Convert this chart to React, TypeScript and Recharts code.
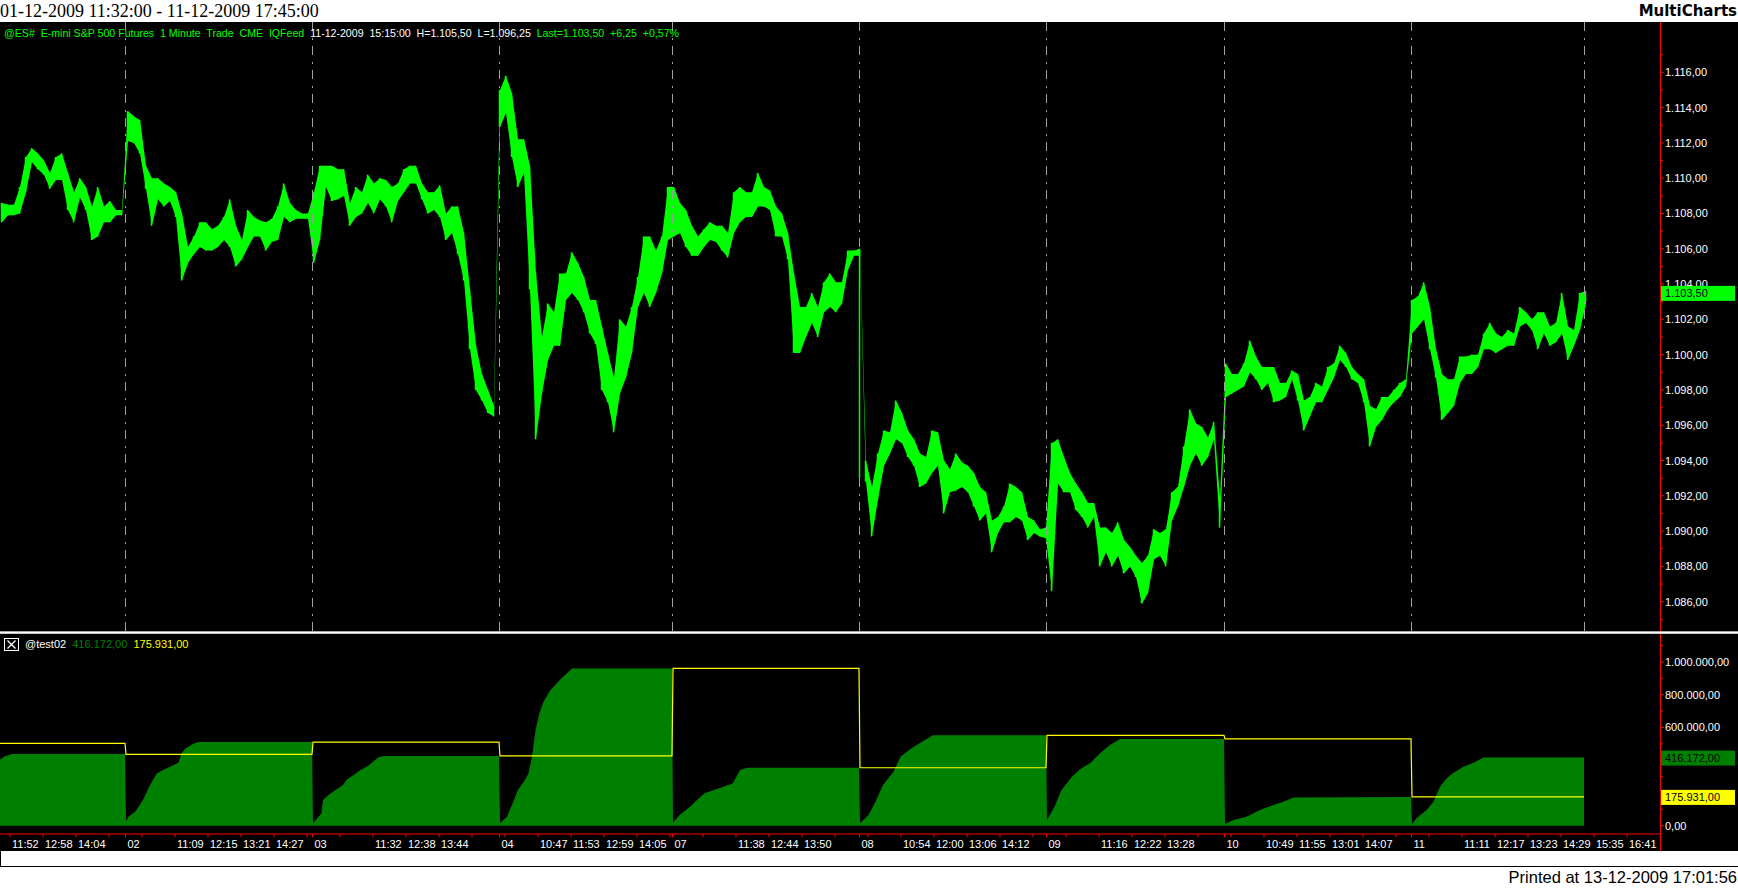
import React from 'react'
import { ComposedChart, Bar, Area, Line, XAxis, YAxis, ReferenceLine } from 'recharts'

const SANS = '"Liberation Sans", Arial, sans-serif'

// one [low, high] pair per 12 one-minute bars, per session
const day01Bars = [
	[1107.5, 1108.6], [1107.9, 1108.5], [1107.9, 1108.5], [1108.0, 1109.5], [1109.2, 1111.2], [1110.9, 1111.7],
	[1110.5, 1111.4], [1110.2, 1111.0], [1109.4, 1110.3], [1109.9, 1111.2], [1109.9, 1111.4], [1108.2, 1110.3],
	[1107.5, 1109.2], [1108.9, 1110.0], [1108.2, 1109.5], [1106.5, 1108.4], [1106.7, 1109.5], [1107.5, 1108.4],
	[1107.5, 1108.7], [1107.9, 1108.2], [1107.9, 1108.2],
]
const day02Bars = [
	[1112.1, 1113.8], [1112.0, 1113.5], [1111.4, 1113.3], [1109.4, 1110.7], [1107.3, 1110.0], [1108.8, 1110.0],
	[1108.4, 1109.7], [1108.7, 1109.5], [1107.8, 1109.2], [1104.2, 1108.0], [1105.2, 1106.1], [1105.7, 1106.7],
	[1106.1, 1107.5], [1105.9, 1107.5], [1105.9, 1107.1], [1106.1, 1107.3], [1106.5, 1107.8], [1106.1, 1108.8],
	[1105.0, 1107.3], [1105.4, 1106.5], [1106.1, 1108.2], [1106.7, 1107.8], [1106.7, 1107.6], [1105.9, 1107.5],
	[1106.4, 1107.7], [1106.5, 1108.4], [1107.8, 1109.7], [1107.5, 1108.6], [1107.7, 1108.2], [1107.7, 1108.0],
	[1107.7, 1108.0],
]
const day03Bars = [
	[1105.2, 1109.2], [1106.5, 1110.7], [1109.5, 1110.7], [1108.7, 1110.7], [1108.8, 1110.5], [1109.0, 1110.5],
	[1107.3, 1108.6], [1107.8, 1109.5], [1108.0, 1109.2], [1108.6, 1110.2], [1108.0, 1109.7], [1108.8, 1110.0],
	[1108.4, 1109.9], [1107.5, 1109.5], [1108.7, 1109.7], [1109.2, 1110.5], [1109.7, 1110.7], [1109.7, 1110.7],
	[1108.8, 1109.7], [1108.0, 1109.2], [1108.2, 1109.2], [1107.8, 1109.6], [1106.5, 1108.0], [1106.9, 1108.4],
	[1105.7, 1108.4], [1104.2, 1106.9], [1100.3, 1103.7], [1098.0, 1100.5], [1097.4, 1098.9], [1096.7, 1098.0],
	[1096.5, 1097.1],
]
const day04Bars = [
	[1112.9, 1115.0], [1113.7, 1115.8], [1111.2, 1114.8], [1109.5, 1112.2], [1110.3, 1112.2], [1103.7, 1110.7],
	[1095.2, 1104.6], [1097.8, 1101.0], [1099.7, 1102.9], [1100.5, 1102.4], [1100.5, 1104.6], [1103.1, 1104.6],
	[1103.5, 1105.8], [1103.1, 1105.2], [1102.4, 1104.4], [1101.2, 1103.1], [1100.6, 1103.1], [1098.0, 1101.6],
	[1097.3, 1100.1], [1095.6, 1098.7], [1097.8, 1102.0], [1098.7, 1101.6], [1100.1, 1102.7], [1102.7, 1104.4],
	[1103.5, 1106.7], [1102.7, 1106.7], [1103.5, 1105.9], [1104.6, 1106.7], [1106.5, 1109.5],
]
const day07Bars = [
	[1106.7, 1109.5], [1106.9, 1108.6], [1106.1, 1108.2], [1105.6, 1107.3], [1105.6, 1106.7], [1106.1, 1107.1],
	[1106.5, 1107.5], [1106.4, 1107.3], [1105.9, 1107.3], [1105.5, 1106.9], [1106.9, 1109.2], [1107.5, 1109.5],
	[1107.8, 1109.2], [1107.8, 1109.2], [1108.4, 1110.3], [1108.4, 1109.5], [1108.2, 1109.3], [1106.7, 1108.4],
	[1106.7, 1108.0], [1105.4, 1106.9], [1100.1, 1104.6], [1100.1, 1102.7], [1101.0, 1102.7], [1101.8, 1103.5],
	[1101.0, 1102.7], [1102.4, 1104.1], [1102.7, 1104.6], [1102.4, 1104.1], [1102.9, 1104.1], [1104.8, 1105.9],
	[1105.6, 1105.9], [1105.6, 1106.0],
]
const day08Bars = [
	[1092.8, 1094.0], [1089.7, 1092.5], [1091.8, 1094.4], [1093.7, 1095.7], [1094.4, 1095.6], [1095.2, 1097.4],
	[1095.0, 1096.7], [1094.2, 1095.7], [1093.7, 1095.2], [1092.5, 1094.4], [1092.7, 1094.2], [1093.3, 1095.7],
	[1093.7, 1095.6], [1091.0, 1094.0], [1092.2, 1093.5], [1092.3, 1094.4], [1092.5, 1093.9], [1092.2, 1093.7],
	[1091.4, 1093.3], [1090.6, 1092.5], [1091.0, 1092.2], [1088.8, 1090.6], [1089.9, 1090.8], [1090.5, 1091.4],
	[1090.5, 1092.7], [1090.8, 1092.5], [1090.6, 1092.2], [1089.5, 1090.8], [1089.9, 1090.6], [1089.7, 1090.1],
	[1089.6, 1090.2],
]
const day09Bars = [
	[1086.6, 1095.0], [1092.7, 1095.2], [1092.2, 1094.2], [1092.2, 1093.3], [1091.2, 1092.7], [1090.8, 1092.2],
	[1090.2, 1091.6], [1090.8, 1091.6], [1088.0, 1090.2], [1088.8, 1090.2], [1088.0, 1089.9], [1088.6, 1090.5],
	[1087.6, 1089.5], [1088.0, 1089.1], [1087.4, 1088.6], [1085.9, 1088.2], [1086.5, 1088.6], [1088.4, 1090.1],
	[1088.6, 1089.9], [1088.0, 1090.1], [1090.6, 1092.2], [1091.4, 1092.5], [1092.5, 1094.8], [1093.7, 1096.9],
	[1094.4, 1096.1], [1093.7, 1095.9], [1094.2, 1095.3], [1095.2, 1096.2], [1090.2, 1091.9],
]
const day10Bars = [
	[1097.6, 1099.5], [1097.8, 1098.9], [1098.0, 1098.9], [1098.2, 1099.5], [1099.0, 1100.8], [1098.6, 1099.9],
	[1098.0, 1099.3], [1098.4, 1099.3], [1097.3, 1099.3], [1097.4, 1098.4], [1097.6, 1098.4], [1098.6, 1099.1],
	[1097.4, 1098.9], [1095.7, 1097.4], [1096.5, 1097.6], [1097.3, 1098.4], [1097.3, 1098.2], [1098.0, 1099.3],
	[1098.7, 1099.5], [1099.7, 1100.5], [1099.3, 1100.1], [1098.6, 1099.3], [1098.4, 1098.9], [1097.3, 1098.6],
	[1094.8, 1097.1], [1095.9, 1096.9], [1096.3, 1097.6], [1096.9, 1097.6], [1097.3, 1098.0], [1097.6, 1098.4],
	[1098.2, 1098.6],
]
const day11Bars = [
	[1101.2, 1103.1], [1101.6, 1103.3], [1102.0, 1104.1], [1100.3, 1102.7], [1098.7, 1100.3], [1096.3, 1098.9],
	[1096.7, 1098.6], [1097.1, 1098.6], [1098.4, 1099.9], [1098.9, 1099.9], [1098.9, 1100.0], [1099.3, 1100.0],
	[1100.3, 1101.2], [1100.3, 1101.8], [1100.1, 1101.2], [1100.3, 1101.0], [1100.5, 1101.4], [1100.5, 1101.2],
	[1101.6, 1102.7], [1101.8, 1102.4], [1101.4, 1102.0], [1100.3, 1102.4], [1101.2, 1102.4], [1100.5, 1101.6],
	[1100.7, 1101.8], [1101.2, 1103.5], [1099.7, 1101.6], [1100.5, 1101.4], [1101.4, 1103.5], [1102.9, 1103.6],
]
const sessionBars = [day01Bars, day02Bars, day03Bars, day04Bars, day07Bars, day08Bars, day09Bars, day10Bars, day11Bars]

// opening bar of the 08 session, spanning the overnight gap: [minute, low, high]
const gapBars = [[1719, 1093.0, 1105.9]]

// session breaks, in minutes from the first bar
const sessionStarts = [251, 625, 999, 1345, 1719, 2093, 2449, 2823]
const sessionLabels = ['02', '03', '04', '07', '08', '09', '10', '11']
const lastBarMinute = 3169

// time axis: a tick every 66 bars from minute 20
const timeLabels = [
	'11:52', '12:58', '14:04', '', '', '11:09', '12:15', '13:21', '14:27', '', '', '11:32', '12:38', '13:44', '', '',
	'10:47', '11:53', '12:59', '14:05', '', '', '11:38', '12:44', '13:50', '', '', '10:54', '12:00', '13:06', '14:12',
	'', '', '11:16', '12:22', '13:28', '', '', '10:49', '11:55', '13:01', '14:07', '', '', '11:11', '12:17', '13:23',
	'14:29', '15:35', '16:41',
]

const priceMajor = [1086, 1088, 1090, 1092, 1094, 1096, 1098, 1100, 1102, 1104, 1106, 1108, 1110, 1112, 1114, 1116]
const priceMinor = [1085, 1087, 1089, 1091, 1093, 1095, 1097, 1099, 1101, 1103, 1105, 1107, 1109, 1111, 1113, 1115, 1117]
const lastPrice = 1103.5

// @test02: running session volume (green) and previous session total (yellow)
const vol01 = [[0, 405000], [10, 425000], [24, 438000], [250, 438000]]
const vol02 = [[252, 29000], [257, 55000], [271, 86000], [286, 157000], [300, 249000], [314, 320000], [329, 345000],
	[343, 365000], [357, 385000], [363, 442000], [371, 473000], [386, 499000], [396, 511000], [624, 511000]]
const vol03 = [[626, 15000], [643, 76000], [646, 157000], [657, 188000], [671, 218000], [686, 249000], [693, 279000],
	[707, 310000], [721, 340000], [736, 365000], [746, 391000], [757, 418000], [768, 426000], [998, 426000]]
const vol04 = [[1000, 16000], [1014, 55000], [1028, 157000], [1036, 218000], [1050, 279000], [1057, 320000],
	[1064, 421000], [1071, 585000], [1079, 688000], [1087, 757000], [1101, 829000], [1123, 900000], [1144, 961000],
	[1344, 961000]]
const vol07 = [[1346, 18000], [1359, 65000], [1380, 116000], [1394, 157000], [1409, 198000], [1437, 228000],
	[1466, 259000], [1480, 340000], [1494, 354000], [1718, 354000]]
const vol08 = [[1720, 15000], [1737, 65000], [1751, 147000], [1766, 249000], [1787, 330000], [1801, 421000],
	[1823, 473000], [1844, 513000], [1866, 552000], [2092, 552000]]
const vol09 = [[2094, 35000], [2109, 116000], [2123, 218000], [2144, 299000], [2160, 345000], [2180, 381000],
	[2200, 442000], [2220, 493000], [2240, 530000], [2448, 530000]]
const vol10 = [[2450, 10000], [2467, 35000], [2493, 55000], [2520, 96000], [2547, 126000], [2567, 147000],
	[2587, 173000], [2822, 176000]]
const vol11 = [[2824, 10000], [2833, 45000], [2853, 96000], [2867, 147000], [2880, 238000], [2893, 289000],
	[2907, 324000], [2927, 360000], [2947, 385000], [2967, 416000], [3168, 416172]]
const sessionVolumes = [vol01, vol02, vol03, vol04, vol07, vol08, vol09, vol10, vol11]
const prevTotals = [503000, 436000, 511000, 426000, 961000, 354000, 552000, 530000, 175931]

const volMajor = [0, 200000, 400000, 600000, 800000, 1000000]
const volMinor = [100000, 300000, 500000, 700000, 900000, 1100000]
const volLast = 416172
const volPrevLast = 175931

const W = 1738
const AXIS_W = 78
const T_MAX = 3320
const BAR_STEP = 12

const priceRows = sessionBars.flat().map(([lo, hi], i) => ({ t: i * BAR_STEP + 4, hl: [lo, hi] }))
const volRows = sessionVolumes.flatMap((pts, d) => pts.map(([t, v]) => ({ t, vol: v, prev: prevTotals[d] })))

const timeTicks = timeLabels.map((_, k) => 20 + 66 * k)
const xTickLabel = new Map<number, string>()
timeTicks.forEach((t, k) => xTickLabel.set(t, timeLabels[k]))
sessionStarts.forEach((t, k) => xTickLabel.set(t, sessionLabels[k]))
const xTicks = [...timeTicks, ...sessionStarts].sort((a, b) => a - b)

const fmt = (v: number) => {
	const [i, d] = v.toFixed(2).split('.')
	return i.replace(/\B(?=(\d{3})+(?!\d))/g, '.') + ',' + d
}

const axisText = { fontFamily: SANS, fontSize: 11 }

// value box on the price scale, drawn over the scale labels it covers
const ValueBox = ({ x, y, v, fill }: { x: number; y: number; v: number; fill: string }) => (
	<g>
		<rect x={x} y={y - 7} width={75} height={15} fill={fill} />
		<text x={x + 5} y={y + 4} fill='#000' {...axisText}>{fmt(v)}</text>
	</g>
)

const PriceTick = (props: any) => {
	const { x, y, payload } = props
	const v = payload.value
	if (v === lastPrice) return <ValueBox x={x} y={y} v={v} fill='#00ff00' />
	const major = priceMajor.includes(v)
	return (
		<g>
			<line x1={x} x2={x + (major ? 4 : 3)} y1={y} y2={y} stroke='#ff0000' />
			{major && <text x={x + 5} y={y + 4} fill='#fff' {...axisText}>{fmt(v)}</text>}
		</g>
	)
}

const VolTick = (props: any) => {
	const { x, y, payload } = props
	const v = payload.value
	if (v === volLast) return <ValueBox x={x} y={y} v={v} fill='#008000' />
	if (v === volPrevLast) return <ValueBox x={x} y={y} v={v} fill='#ffff00' />
	const major = volMajor.includes(v)
	// labels that sit under a value box stay hidden, as on the original scale
	const covered = Math.abs(v - volLast) < 45000 || Math.abs(v - volPrevLast) < 45000
	return (
		<g>
			<line x1={x} x2={x + (major ? 4 : 3)} y1={y} y2={y} stroke='#ff0000' />
			{major && !covered && <text x={x + 5} y={y + 4} fill='#fff' {...axisText}>{fmt(v)}</text>}
		</g>
	)
}

const TimeTick = (props: any) => {
	const { x, y, payload } = props
	const label = xTickLabel.get(payload.value) || ''
	return (
		<g>
			<line x1={x} x2={x} y1={y} y2={y + 3} stroke='#ff0000' />
			{label && <text x={x + 2} y={y + 14} fill='#fff' {...axisText}>{label}</text>}
		</g>
	)
}

// thin high-low stroke at each sample, on top of the filled range band
const PriceBar = (p: any) => {
	const h = Math.abs(p.height)
	const top = p.height < 0 ? p.y + p.height : p.y
	return <rect x={p.x + p.width / 2 - 0.75} y={top} width={1.5} height={Math.max(h, 1)} fill='#00ff00' />
}

const PriceChart = () => (
	<ComposedChart width={W} height={609} data={priceRows} margin={{ top: 0, right: 0, bottom: 0, left: 0 }} barGap={0}>
		<XAxis type='number' dataKey='t' domain={[0, T_MAX]} allowDataOverflow hide height={0} />
		<YAxis
			orientation='right'
			width={AXIS_W}
			domain={[1084.34, 1118.85]}
			allowDataOverflow
			ticks={[...priceMinor, ...priceMajor, lastPrice]}
			interval={0}
			tick={PriceTick}
			tickLine={false}
			axisLine={false}
			tickSize={0}
			tickMargin={0}
		/>
		{[...sessionStarts, lastBarMinute].map((t) => (
			<ReferenceLine key={t} x={t} stroke='#a0a0a0' strokeDasharray='9 6 2 7' />
		))}
		<Area dataKey='hl' type='linear' fill='#00ff00' fillOpacity={1} stroke='none' isAnimationActive={false} />
		<Bar dataKey='hl' barSize={5} shape={PriceBar} isAnimationActive={false} />
		{gapBars.map(([t, lo, hi]) => (
			<ReferenceLine key={'g' + t} segment={[{ x: t, y: lo }, { x: t, y: hi }]} stroke='#00ff00' strokeWidth={1.5} />
		))}
	</ComposedChart>
)

const VolumeChart = () => (
	<ComposedChart width={W} height={217} data={volRows} margin={{ top: 0, right: 0, bottom: 0, left: 0 }}>
		<XAxis
			type='number'
			dataKey='t'
			domain={[0, T_MAX]}
			allowDataOverflow
			ticks={xTicks}
			interval={0}
			tick={TimeTick}
			tickLine={false}
			tickSize={0}
			tickMargin={0}
			height={17}
			axisLine={{ stroke: '#ff0000' }}
		/>
		<YAxis
			orientation='right'
			width={AXIS_W}
			domain={[-50700, 1171000]}
			allowDataOverflow
			ticks={[...volMinor, ...volMajor, volLast, volPrevLast]}
			interval={0}
			tick={VolTick}
			tickLine={false}
			axisLine={false}
			tickSize={0}
			tickMargin={0}
		/>
		<Area dataKey='vol' type='linear' fill='#008000' fillOpacity={1} stroke='none' isAnimationActive={false} />
		<Line dataKey='prev' type='linear' stroke='#ffff00' strokeWidth={1.2} dot={false} isAnimationActive={false} />
	</ComposedChart>
)

const abs = (left: number, top: number, extra: React.CSSProperties = {}): React.CSSProperties => ({
	position: 'absolute',
	left,
	top,
	...extra,
})

export default function App() {
	return (
		<div style={{ position: 'relative', width: W, height: 888, background: '#fff', overflow: 'hidden' }}>
			<style>{'body{margin:0}'}</style>
			{/* title bar */}
			<div style={abs(0, 0, { height: 22, lineHeight: '22px', fontFamily: '"Liberation Serif", serif', fontSize: 18, color: '#000' })}>
				01-12-2009 11:32:00 - 11-12-2009 17:45:00
			</div>
			<div style={abs(0, 0, { width: 1737, height: 22, lineHeight: '22px', textAlign: 'right', fontFamily: '"DejaVu Sans", sans-serif', fontWeight: 'bold', fontSize: 15, color: '#000' })}>
				MultiCharts
			</div>

			<div style={abs(0, 22, { width: W, height: 829, background: '#000' })} />

			<div style={abs(0, 22)}>
				<PriceChart />
			</div>
			<div style={abs(0, 634)}>
				<VolumeChart />
			</div>

			{/* price legend */}
			<div style={abs(4, 26, { fontFamily: SANS, fontSize: 10.6, lineHeight: '14px', whiteSpace: 'pre', color: '#00ff00' })}>
				{'@ES#  E-mini S&P 500 Futures  1 Minute  Trade  CME  IQFeed  '}
				<span style={{ color: '#fff' }}>{'11-12-2009  15:15:00  H=1.105,50  L=1.096,25  '}</span>
				{'Last=1.103,50  +6,25  +0,57%'}
			</div>

			{/* indicator legend */}
			<svg style={abs(0, 634)} width={20} height={20}>
				<rect x={4.5} y={4.5} width={14} height={12} fill='none' stroke='#fff' />
				<path d='M7.5 6.5 L15.5 14.5 M15.5 6.5 L7.5 14.5' stroke='#fff' strokeWidth={1.3} />
			</svg>
			<div style={abs(25, 637, { fontFamily: SANS, fontSize: 11, lineHeight: '14px', whiteSpace: 'pre', color: '#fff' })}>
				{'@test02  '}
				<span style={{ color: '#008000' }}>{fmt(volLast) + '  '}</span>
				<span style={{ color: '#ffff00' }}>{fmt(volPrevLast)}</span>
			</div>

			{/* right price scale line */}
			<div style={abs(1660, 22, { width: 1, height: 829, background: '#ff0000' })} />

			{/* pane splitter */}
			<div style={abs(0, 631, { width: W, height: 1, background: '#a8a8a8' })} />
			<div style={abs(0, 632, { width: W, height: 1, background: '#ffffff' })} />
			<div style={abs(0, 633, { width: W, height: 1, background: '#c8c8c8' })} />

			{/* bottom strip */}
			<div style={abs(0, 851, { width: W - 1, height: 15, borderLeft: '1px solid #000', borderBottom: '1px solid #000', background: '#fff' })} />
			<div style={abs(0, 868, { width: 1737, textAlign: 'right', fontFamily: SANS, fontSize: 16.5, color: '#000', whiteSpace: 'pre' })}>
				Printed at 13-12-2009 17:01:56
			</div>
		</div>
	)
}
